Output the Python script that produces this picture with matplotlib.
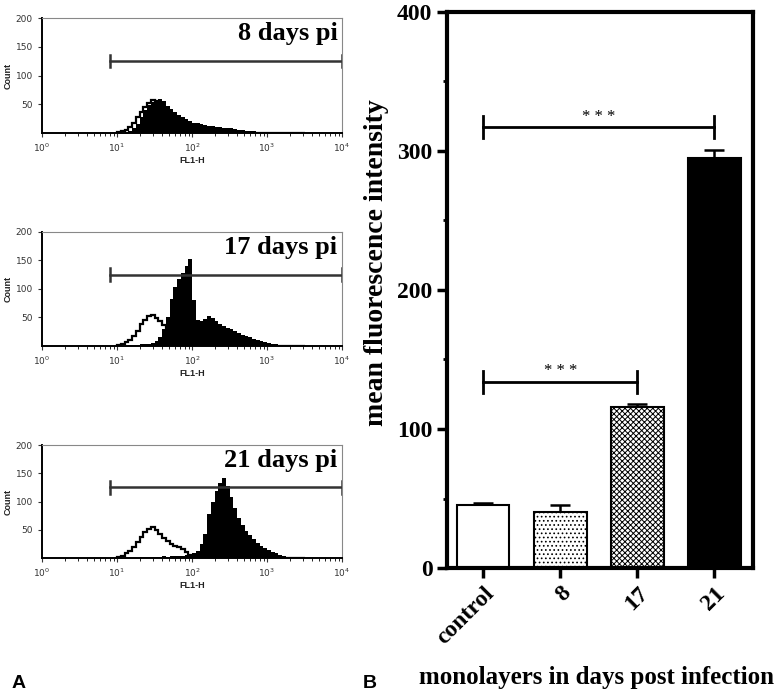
import matplotlib
matplotlib.use("Agg")
import matplotlib.pyplot as plt
import numpy as np

# ---- panel A: flow cytometry histograms (counts per 0.05-decade bin) ----
log_edges = np.arange(1.0, 3.5001, 0.05)
day_labels = ["8 days pi", "17 days pi", "21 days pi"]

open_8 = [1, 3, 6, 11, 18, 27, 37, 46, 53, 57, 55, 50, 44, 38, 32, 27, 23, 19, 16, 13,
          11, 9, 8, 6, 5, 4, 3, 3, 2, 2, 1, 0, 0, 0, 0, 0, 0, 0, 0, 0,
          0, 0, 0, 0, 0, 0, 0, 0, 0, 0]
filled_8 = [0, 0, 1, 3, 8, 16, 28, 40, 49, 54, 58, 60, 55, 47, 41, 36, 31, 28, 24, 21,
            18, 17, 15, 14, 12, 12, 11, 10, 9, 8, 8, 7, 6, 5, 4, 4, 3, 2, 2, 1,
            1, 0, 0, 0, 0, 0, 0, 0, 0, 0]
open_17 = [2, 4, 7, 11, 17, 26, 38, 46, 53, 55, 49, 44, 36, 26, 17, 10, 6, 3, 1, 0,
           0, 0, 0, 0, 0, 0, 0, 0, 0, 0, 0, 0, 0, 0, 0, 0, 0, 0, 0, 0,
           0, 0, 0, 0, 0, 0, 0, 0, 0, 0]
filled_17 = [0, 0, 0, 1, 1, 2, 3, 3, 4, 6, 9, 16, 30, 50, 82, 104, 118, 128, 140, 152,
             80, 46, 44, 48, 52, 49, 43, 38, 35, 32, 29, 26, 23, 20, 17, 15, 13, 11, 9, 7,
             5, 4, 3, 2, 1, 1, 0, 0, 0, 0]
open_21 = [1, 4, 8, 13, 20, 28, 38, 46, 52, 54, 50, 42, 35, 30, 25, 22, 19, 16, 10, 5,
           2, 0, 0, 0, 0, 0, 0, 0, 0, 0, 0, 0, 0, 0, 0, 0, 0, 0, 0, 0,
           0, 0, 0, 0, 0, 0, 0, 0, 0, 0]
filled_21 = [0, 0, 0, 0, 0, 0, 1, 1, 1, 2, 2, 2, 3, 2, 3, 3, 4, 4, 5, 6,
             8, 13, 24, 42, 78, 100, 118, 132, 142, 128, 108, 88, 70, 58, 48, 40, 33, 27, 22, 18,
             14, 10, 8, 5, 3, 2, 1, 0, 0, 0]

opens = [open_8, open_17, open_21]
filleds = [filled_8, filled_17, filled_21]
gate = (8.0, 1e4, 125)

# ---- panel B: mean fluorescence intensity ----
groups = ["control", "8", "17", "21"]
mfi = [45, 40, 116, 295]
mfi_err = [2, 5, 2, 6]
hatches = ["", "....", "xxxxxx", ""]
colors = ["white", "white", "white", "black"]
sig_pairs = [(0, 2, 134), (0, 3, 317)]

plt.rcParams["hatch.linewidth"] = 0.7
fig = plt.figure(figsize=(7.78, 6.96), dpi=100)

serif = "Liberation Serif"
sans = "Liberation Sans"

tops = [0.9741, 0.6667, 0.3606]
bots = [0.8089, 0.5029, 0.1983]
edges = 10 ** log_edges
for k in range(3):
    ax = fig.add_axes([0.054, bots[k], 0.3856, tops[k] - bots[k]])
    ax.stairs(filleds[k], edges, fill=True, color="black")
    ax.stairs(opens[k], edges, color="black", linewidth=1.6)
    ax.set_xscale("log")
    ax.set_xlim(1, 1e4)
    ax.set_ylim(0, 200)
    ax.set_yticks([50, 100, 150, 200])
    ax.set_xticks([1, 10, 100, 1000, 10000])
    ax.tick_params(labelsize=6.5, colors="#333333", length=3, width=0.8)
    ax.tick_params(axis="x", which="minor", length=2, width=0.6)
    for s in ["top", "right"]:
        ax.spines[s].set_color("#888888")
        ax.spines[s].set_linewidth(0.8)
    for s in ["left", "bottom"]:
        ax.spines[s].set_linewidth(1.4)
    ax.set_xlabel("FL1-H", fontsize=6.5, fontweight="bold", family=sans, labelpad=1, color="#222222")
    ax.set_ylabel("Count", fontsize=6.5, fontweight="bold", family=sans, labelpad=2, color="#222222")
    # gate marker
    g0, g1, gy = gate
    ax.plot([g0, g1], [gy, gy], color="#333333", lw=1.8)
    ax.plot([g0, g0], [gy - 11, gy + 11], color="#333333", lw=1.8)
    ax.plot([g1, g1], [gy - 11, gy + 11], color="#333333", lw=1.8)
    ax.text(0.985, 0.965, day_labels[k], transform=ax.transAxes, ha="right", va="top",
            fontsize=19, fontweight="bold", family=serif)

# panel B
axb = fig.add_axes([0.5746, 0.1839, 0.3933, 0.7989])
x = np.arange(len(groups))
for i in range(len(groups)):
    axb.bar(x[i], mfi[i], width=0.68, color=colors[i], edgecolor="black",
            linewidth=1.5, hatch=hatches[i], zorder=2)
    axb.errorbar(x[i], mfi[i], yerr=[[0], [mfi_err[i]]], color="black",
                 capsize=7, elinewidth=1.8, capthick=1.8, zorder=1)
axb.set_xlim(-0.47, 3.5)
axb.set_ylim(0, 400)
axb.set_yticks([0, 100, 200, 300, 400])
axb.set_yticks([50, 150, 250, 350], minor=True)
axb.set_xticks(x)
axb.set_xticklabels(groups, rotation=45, ha="right", rotation_mode="anchor")
for lab in axb.get_xticklabels() + axb.get_yticklabels():
    lab.set_fontfamily(serif)
    lab.set_fontweight("bold")
    lab.set_fontsize(17)
axb.tick_params(axis="both", which="major", length=7, width=2.5)
axb.tick_params(axis="y", which="minor", length=3, width=2)
for s in axb.spines.values():
    s.set_linewidth(3)
axb.set_ylabel("mean fluorescence intensity", fontsize=20, fontweight="bold", family=serif)
axb.yaxis.set_label_coords(-0.19, 0.55)

for a, b, h in sig_pairs:
    axb.plot([a, b], [h, h], color="black", lw=2)
    axb.plot([a, a], [h - 8, h + 8], color="black", lw=2)
    axb.plot([b, b], [h - 8, h + 8], color="black", lw=2)
    axb.text((a + b) / 2, h + 2, "* * *", ha="center", va="bottom", fontsize=12, family=serif)

fig.text(0.767, 0.01, "monolayers in days post infection", ha="center", va="bottom",
         fontsize=18, fontweight="bold", family=serif)
fig.text(0.015, 0.012, "A", fontsize=14, fontweight="bold", family=sans)
fig.text(0.466, 0.012, "B", fontsize=14, fontweight="bold", family=sans)

fig.savefig("out.png", dpi=100)
